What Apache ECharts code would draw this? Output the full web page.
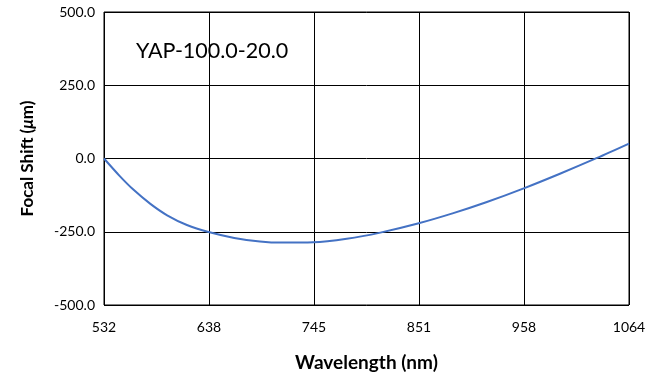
<!DOCTYPE html>
<html><head><meta charset="utf-8">
<script src="https://cdn.jsdelivr.net/npm/echarts@6/dist/echarts.min.js"></script>
<style>html,body{margin:0;padding:0;background:#fff}#c{width:661px;height:377px}</style>
</head><body><div id="c"></div>
<script>
const wavelengths = [532, 548, 562, 579, 596, 616, 638, 664, 690, 712, 744, 778, 812, 850, 886, 920, 958, 994, 1031, 1064];
const focalShift = [0, -60, -107, -155, -194, -227, -251, -271, -283, -287, -286, -274, -253, -222, -186.5, -148.5, -101, -52, 1, 51];
const xTicks = [532, 638, 745, 851, 958, 1064];
const chartTitle = 'YAP-100.0-20.0';

const chart = echarts.init(document.getElementById('c'), null, {renderer: 'canvas'});
const font = 'Lato, "Open Sans", sans-serif';
chart.setOption({
  animation: false,
  grid: {left: 104, right: 32, top: 12, bottom: 70, show: true, borderColor: '#000', borderWidth: 1},
  title: {text: chartTitle, left: 131, top: 35, textStyle: {fontFamily: font, fontWeight: 'normal', fontSize: 21.5, color: '#000'}},
  xAxis: {
    type: 'value', min: 532, max: 1064, interval: 106.4,
    axisLine: {show: false}, axisTick: {show: false},
    splitLine: {show: true, lineStyle: {color: '#000', width: 1}},
    axisLabel: {fontFamily: font, fontSize: 14, color: '#000', margin: 15,
      formatter: v => { let best = xTicks[0]; for (const t of xTicks) if (Math.abs(t - v) < Math.abs(best - v)) best = t; return String(best); }},
    name: 'Wavelength (nm)', nameLocation: 'middle', nameGap: 48,
    nameTextStyle: {fontFamily: font, fontWeight: 'bold', fontSize: 19, color: '#000'}
  },
  yAxis: {
    type: 'value', min: -500, max: 500, interval: 250,
    axisLine: {show: false}, axisTick: {show: false},
    splitLine: {show: true, lineStyle: {color: '#000', width: 1}},
    axisLabel: {fontFamily: font, fontSize: 14, color: '#000', margin: 9, formatter: v => v.toFixed(1)},
    name: '{b|Focal Shift (}{i|μ}{b|m)}', nameLocation: 'middle', nameGap: 68, nameRotate: 90,
    nameTextStyle: {rich: {
      b: {fontFamily: font, fontWeight: 'bold', fontSize: 17, color: '#000'},
      i: {fontFamily: font, fontWeight: 'bold', fontStyle: 'italic', fontSize: 17, color: '#000'}
    }}
  },
  series: [{
    type: 'line', smooth: 0.3, showSymbol: false,
    lineStyle: {color: '#4472C4', width: 2},
    data: wavelengths.map((w, i) => [w, focalShift[i]])
  }]
});
</script></body></html>
